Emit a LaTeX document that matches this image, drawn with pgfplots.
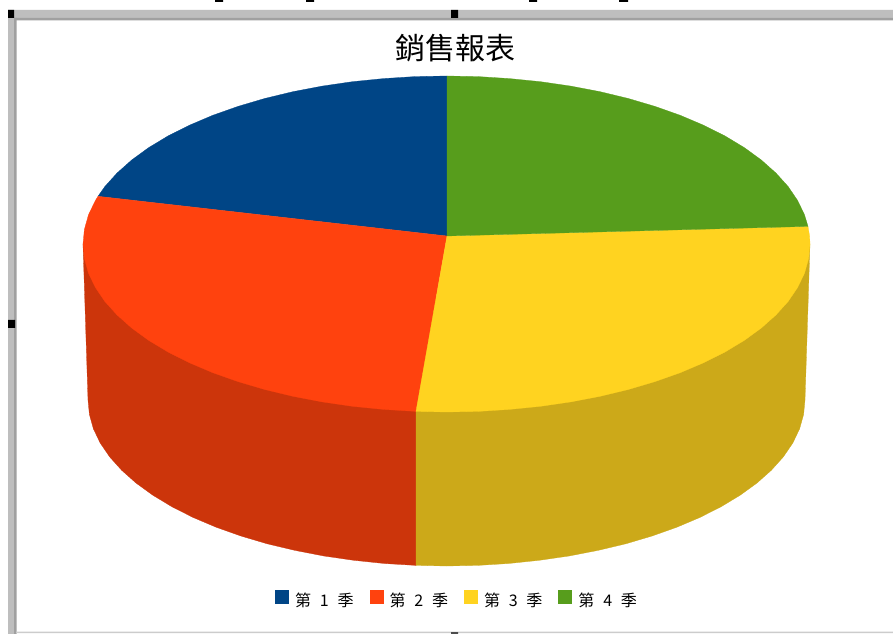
\documentclass[border=0pt]{standalone}
\usepackage{pgfplots}
\usepackage{fontspec}
\pgfplotsset{compat=1.18}
\setmainfont{Noto Sans CJK TC}
\definecolor{cblue}{HTML}{004586}
\definecolor{cred}{HTML}{FF420E}
\definecolor{cyellow}{HTML}{FFD320}
\definecolor{cgreen}{HTML}{579D1C}
\definecolor{credd}{HTML}{CC350B}
\definecolor{cyellowd}{HTML}{CCA919}
\definecolor{bar}{HTML}{BEBEBE}
\definecolor{bard}{HTML}{A0A0A0}
\newcommand{\lab}[1]{第\hspace{6.6pt}#1\hspace{6.6pt}季}
\begin{document}
\begin{tikzpicture}
\begin{axis}[
  scale only axis, width=669.75pt, height=475.5pt,
  xmin=0, xmax=893, ymin=0, ymax=634, y dir=reverse,
  hide axis,
  title={\fontsize{22.5}{26}\selectfont 銷售報表},
  title style={at={(axis cs:455,56)}, anchor=center, inner sep=0pt, yshift=0pt},
  legend columns=4,
  legend style={at={(axis cs:456,599.5)}, anchor=center, draw=none, fill=none,
    font=\fontsize{12}{14}\selectfont,
    inner sep=0pt, outer sep=0pt,
    nodes={inner sep=0pt, outer sep=0pt},
    /tikz/every odd column/.style={column sep=4.5pt},
    /tikz/every even column/.style={column sep=12pt}},
  legend image code/.code={\path[#1,draw=none] (0pt,-2.25pt) rectangle (10.5pt,8.25pt);},
]
% background and window frame
\addplot[forget plot, fill=white, draw=none] coordinates {(0,0)(893,0)(893,634)(0,634)(0,0)};
\addplot[forget plot, fill=bar, draw=none] coordinates {(8,10)(893,10)(893,18)(8,18)(8,10)};
\addplot[forget plot, fill=bard, draw=none] coordinates {(14,18)(893,18)(893,20.5)(14,20.5)(14,18)};
\addplot[forget plot, fill=bar, draw=none] coordinates {(8,10)(14,10)(14,634)(8,634)(8,10)};
\addplot[forget plot, fill=bard, draw=none] coordinates {(14,18)(16.5,18)(16.5,634)(14,634)(14,18)};
\addplot[forget plot, fill=black!20, draw=none] coordinates {(16,631.5)(893,631.5)(893,633)(16,633)(16,631.5)};
% handles
\addplot[forget plot, fill=black, draw=none] coordinates {(8,10)(14,10)(14,18)(8,18)(8,10)};
\addplot[forget plot, fill=black, draw=none] coordinates {(451,10)(458,10)(458,18)(451,18)(451,10)};
\addplot[forget plot, fill=black, draw=none] coordinates {(8,320)(15,320)(15,328)(8,328)(8,320)};
\addplot[forget plot, fill=black, draw=none] coordinates {(215,0)(223,0)(223,2)(215,2)(215,0)};
\addplot[forget plot, fill=black, draw=none] coordinates {(306,0)(314,0)(314,2)(306,2)(306,0)};
\addplot[forget plot, fill=black, draw=none] coordinates {(529,0)(537,0)(537,2)(529,2)(529,0)};
\addplot[forget plot, fill=black, draw=none] coordinates {(619,0)(628,0)(628,2)(619,2)(619,0)};
\addplot[forget plot, fill=black!70, draw=none] coordinates {(451,632)(458,632)(458,634)(451,634)(451,632)};
% sides
\addplot[forget plot, fill=credd, draw=credd, line width=0.2pt] coordinates {
 (83,244)(88,400)(89.4,414.5)(93.4,428.8)(100.2,443)(109.6,456.8)(121.6,470.2)(136,483)(152.8,495.2)(171.9,506.7)(193,517.4)(216.1,527.2)(240.9,536)(267.2,543.8)(295,550.4)(323.9,556)(353.7,560.3)(384.3,563.5)(416,565.4)(416,300)(83,244)};
\addplot[forget plot, fill=cyellowd, draw=cyellowd, line width=0.2pt] coordinates {
 (416,300)(416,565.4)(446.5,566)(477.8,565.4)(508.7,563.5)(539.3,560.3)(569.1,556)(598,550.4)(625.8,543.8)(652.1,536)(676.9,527.2)(700,517.4)(721.1,506.7)(740.2,495.2)(757,483)(771.4,470.2)(783.4,456.8)(792.8,443)(799.6,428.8)(803.6,414.5)(805,400)(810,244)(416,300)};
% top faces
\addplot[fill=cblue, draw=cblue, line width=0.2pt] coordinates {
 (447,236)(447,76)(414.8,76.6)(383.4,78.6)(352.4,81.7)(322.2,86.1)(292.9,91.7)(264.7,98.5)(238,106.4)(212.8,115.3)(189.5,125.2)(168,136)(148.7,147.6)(131.7,160)(117.1,173)(104.9,186.5)(98,196.3)(447,236)};
\addlegendentry{\lab{1}}
\addplot[fill=cred, draw=cred, line width=0.2pt] coordinates {
 (447,236)(98,196.3)(95.4,200.5)(88.5,214.8)(84.4,229.4)(83,244)(84.4,258.6)(88.5,273.2)(95.4,287.5)(104.9,301.5)(117.1,315)(131.7,328)(148.7,340.4)(168,352)(189.5,362.8)(212.8,372.7)(238,381.6)(264.7,389.5)(292.9,396.3)(322.2,401.9)(352.4,406.3)(383.4,409.4)(416,411.4)(447,236)};
\addlegendentry{\lab{2}}
\addplot[fill=cyellow, draw=cyellow, line width=0.2pt] coordinates {
 (447,236)(416,411.4)(446.5,412)(478.2,411.4)(509.6,409.4)(540.6,406.3)(570.8,401.9)(600.1,396.3)(628.3,389.5)(655,381.6)(680.2,372.7)(703.5,362.8)(725,352)(744.3,340.4)(761.3,328)(775.9,315)(788.1,301.5)(797.6,287.5)(804.5,273.2)(808.6,258.6)(810,244)(809.6,236)(808,226.4)(447,236)};
\addlegendentry{\lab{3}}
\addplot[fill=cgreen, draw=cgreen, line width=0.2pt] coordinates {
 (447,236)(808,226.4)(804.5,214.8)(797.6,200.5)(788.1,186.5)(775.9,173)(761.3,160)(744.3,147.6)(725,136)(703.5,125.2)(680.2,115.3)(655,106.4)(628.3,98.5)(600.1,91.7)(570.8,86.1)(540.6,81.7)(509.6,78.6)(478.2,76.6)(447,76)(447,236)};
\addlegendentry{\lab{4}}
\end{axis}
\end{tikzpicture}
\end{document}
